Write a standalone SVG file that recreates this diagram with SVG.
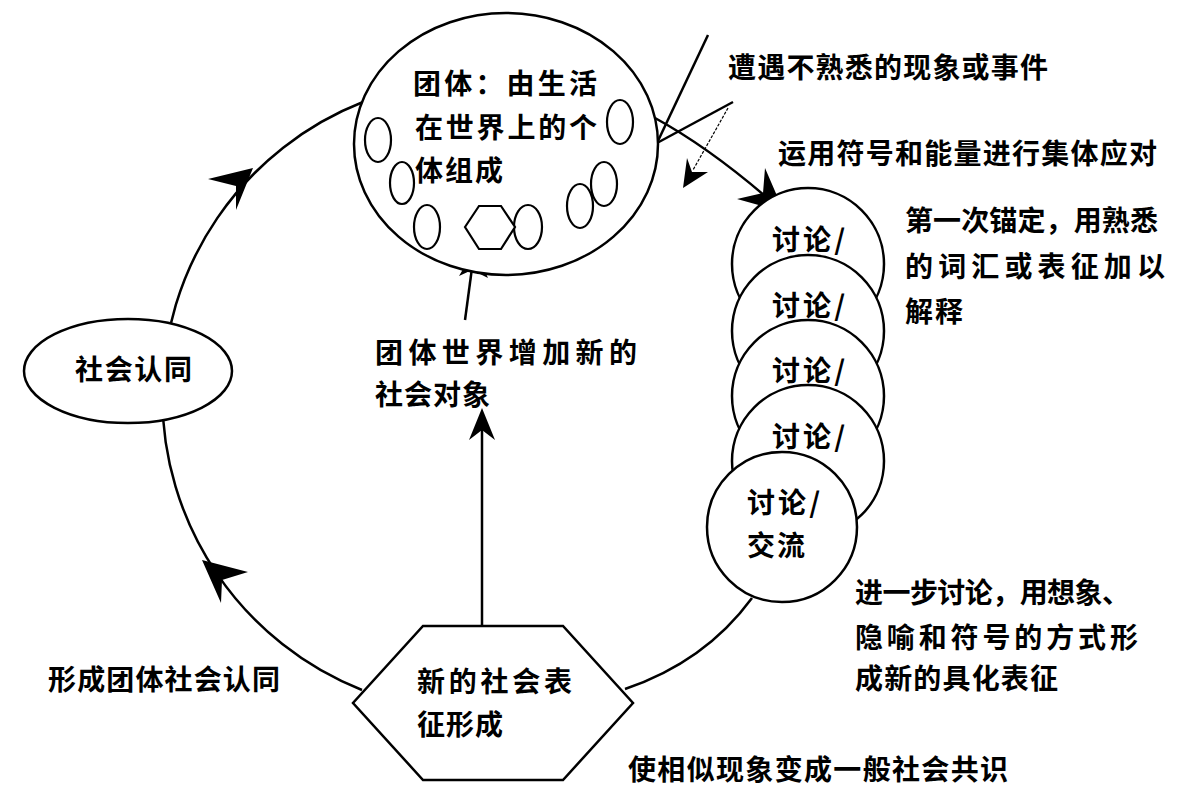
<svg xmlns="http://www.w3.org/2000/svg" width="1181" height="795" viewBox="0 0 1181 795">
<style>
text{font-family:"Noto Sans CJK SC","Noto Sans",sans-serif;font-size:28px;fill:#000;font-weight:700}
.ln{fill:none;stroke:#000;stroke-width:2.5}
.sh{fill:#fff;stroke:#000;stroke-width:2.5}
.sm{fill:#fff;stroke:#000;stroke-width:2.2}
.ah{fill:#000;stroke:none}
</style>
<rect width="1181" height="795" fill="#fff"/>
<g id="connectors">
<path class="ln" d="M363,102 A316,316 0 0 0 362,690"/>
<path class="ln" d="M655,118 Q710,148 772,202"/>
<path class="ln" d="M752,598 Q705,662 625,689"/>
<line class="ln" x1="708" y1="35" x2="657" y2="143"/>
<line class="ln" x1="733" y1="102" x2="657" y2="143"/>
<line x1="728" y1="108" x2="693" y2="170" stroke="#000" stroke-width="1.2" stroke-dasharray="3 1.5"/>
<line class="ln" x1="482" y1="626" x2="482" y2="428"/>
<line class="ln" x1="465" y1="320" x2="472" y2="268"/>
<polygon class="ah" points="253,168 208,179 236,186 236,210"/>
<polygon class="ah" points="202,560 248,572 222,580 221,603"/>
<polygon class="ah" points="784,212 765,168 763,193 737,199"/>
<polygon class="ah" points="482,408 495,440 482,430 469,440"/>
<polygon class="ah" points="475,249 488,278 472,270 459,276"/>
<polygon class="ah" points="683,188 687,158 692,172 708,172"/>
</g>
<g id="group-world">
<ellipse class="sh" cx="506" cy="144" rx="152" ry="131"/>
<ellipse class="sm" cx="378" cy="140" rx="13" ry="22"/>
<ellipse class="sm" cx="402" cy="183" rx="12" ry="21"/>
<ellipse class="sm" cx="427" cy="227" rx="13" ry="22"/>
<ellipse class="sm" cx="620" cy="122" rx="13" ry="22"/>
<ellipse class="sm" cx="604" cy="184" rx="13" ry="22"/>
<ellipse class="sm" cx="580" cy="206" rx="13" ry="22"/>
<ellipse class="sm" cx="528" cy="227" rx="14" ry="22"/>
<polygon class="sm" points="465,227 479,206 501,206 515,227 501,249 479,249"/>
<text x="413" y="94" textLength="184" lengthAdjust="spacing">团体：由生活</text>
<text x="415" y="138" textLength="182" lengthAdjust="spacing">在世界上的个</text>
<text x="415" y="181" textLength="88" lengthAdjust="spacing">体组成</text>
</g>
<g id="identity">
<ellipse class="sh" cx="128" cy="371" rx="104" ry="52"/>
<text x="75" y="380" textLength="117" lengthAdjust="spacing">社会认同</text>
</g>
<g id="discussion">
<circle class="sh" cx="808" cy="264" r="76"/>
<text x="772" y="250" textLength="73" lengthAdjust="spacing">讨论/</text>
<circle class="sh" cx="808" cy="331" r="76"/>
<text x="772" y="316" textLength="73" lengthAdjust="spacing">讨论/</text>
<circle class="sh" cx="808" cy="396" r="76"/>
<text x="772" y="381" textLength="73" lengthAdjust="spacing">讨论/</text>
<circle class="sh" cx="808" cy="461" r="76"/>
<text x="772" y="447" textLength="73" lengthAdjust="spacing">讨论/</text>
<circle class="sh" cx="782" cy="527" r="75"/>
<text x="747" y="513" textLength="73" lengthAdjust="spacing">讨论/</text>
<text x="747" y="556" textLength="58" lengthAdjust="spacing">交流</text>
</g>
<g id="new-representation">
<polygon class="sh" points="423,626 563,626 633,703 563,780 423,780 353,703"/>
<text x="417" y="692" textLength="155" lengthAdjust="spacing">新的社会表</text>
<text x="417" y="735" textLength="86" lengthAdjust="spacing">征形成</text>
</g>
<g id="labels">
<text x="728" y="78" textLength="320" lengthAdjust="spacing">遭遇不熟悉的现象或事件</text>
<text x="778" y="164" textLength="379" lengthAdjust="spacing">运用符号和能量进行集体应对</text>
<text x="905" y="231" textLength="253" lengthAdjust="spacing">第一次锚定，用熟悉</text>
<text x="905" y="277" textLength="260" lengthAdjust="spacing">的词汇或表征加以</text>
<text x="905" y="322" textLength="58" lengthAdjust="spacing">解释</text>
<text x="375" y="363" textLength="262" lengthAdjust="spacing">团体世界增加新的</text>
<text x="375" y="405" textLength="115" lengthAdjust="spacing">社会对象</text>
<text x="48" y="690" textLength="232" lengthAdjust="spacing">形成团体社会认同</text>
<text x="855" y="603" textLength="275" lengthAdjust="spacing">进一步讨论，用想象、</text>
<text x="855" y="648" textLength="283" lengthAdjust="spacing">隐喻和符号的方式形</text>
<text x="855" y="689" textLength="203" lengthAdjust="spacing">成新的具化表征</text>
<text x="628" y="780" textLength="380" lengthAdjust="spacing">使相似现象变成一般社会共识</text>
</g>
</svg>
